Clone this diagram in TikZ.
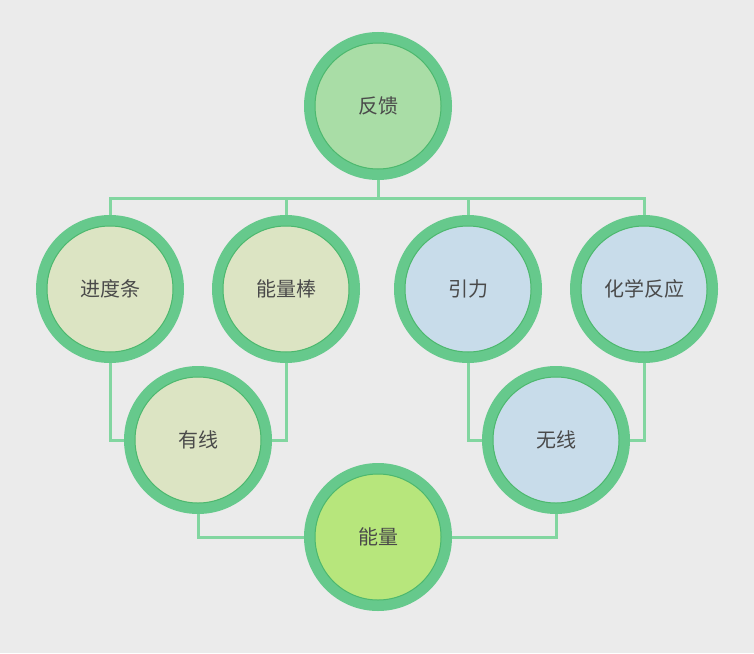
\documentclass[tikz,border=0pt]{standalone}
\usepackage{fontspec}
\newfontfamily\cjk{Noto Sans CJK SC}
\definecolor{bg}{HTML}{EBEBEB}
\definecolor{ring}{HTML}{66C98C}
\definecolor{rimd}{HTML}{4DB86E}
\definecolor{wire}{HTML}{82D6A0}
\definecolor{cg}{HTML}{A9DDA6}
\definecolor{cy}{HTML}{DCE4C3}
\definecolor{cb}{HTML}{C8DCEA}
\definecolor{cl}{HTML}{B7E67C}
\definecolor{txt}{HTML}{4A4A4A}
\begin{document}
\begin{tikzpicture}[x=1pt,y=-1pt,
  bub/.style={circle,draw=ring,line width=11pt,minimum size=137pt,inner sep=0pt,font=\cjk\fontsize{20}{24}\selectfont,text=txt},
  wirel/.style={draw=wire,line width=3pt}]
\fill[bg] (0,0) rectangle (754,653);
\useasboundingbox (0,0) rectangle (754,653);
\node[bub,fill=cg] (fk) at (378,106) {反馈};
\node[bub,fill=cy] (jd) at (110,289) {进度条};
\node[bub,fill=cy] (nl) at (286,289) {能量棒};
\node[bub,fill=cb] (yl) at (468,289) {引力};
\node[bub,fill=cb] (hx) at (644,289) {化学反应};
\node[bub,fill=cy] (yx) at (198,440) {有线};
\node[bub,fill=cb] (wx) at (556,440) {无线};
\node[bub,fill=cl] (nr) at (378,537) {能量};
\foreach \n in {fk,jd,nl,yl,hx,yx,wx,nr}{\draw[rimd,line width=1pt] (\n) circle (63pt);}
\begin{scope}[on background layer/.style={}]
\end{scope}
\begin{pgfinterruptboundingbox}
\end{pgfinterruptboundingbox}
% connectors drawn beneath by re-drawing bubbles afterwards
\coordinate (bar) at (378,198);
\draw[wirel] (fk.south) -- (bar);
\draw[wirel] (jd.north) |- (bar) -| (hx.north);
\draw[wirel] (nl.north) -- (nl.north |- bar);
\draw[wirel] (yl.north) -- (yl.north |- bar);
\draw[wirel] (jd.south) |- (yx.west);
\draw[wirel] (nl.south) |- (yx.east);
\draw[wirel] (yl.south) |- (wx.west);
\draw[wirel] (hx.south) |- (wx.east);
\draw[wirel] (yx.south) |- (nr.west);
\draw[wirel] (wx.south) |- (nr.east);
\end{tikzpicture}
\end{document}
